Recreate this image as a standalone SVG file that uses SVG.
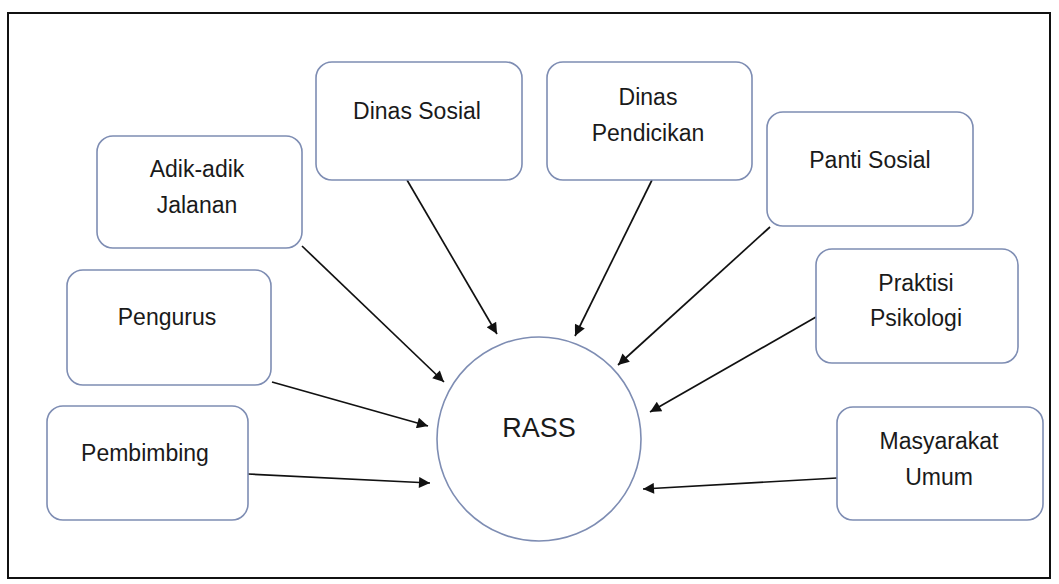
<svg xmlns="http://www.w3.org/2000/svg" width="1059" height="584" viewBox="0 0 1059 584">
<style>
.box{fill:#fff;stroke:#7e8db3;stroke-width:1.6}
.lbl{font-family:"Liberation Sans",Arial,sans-serif;font-size:23px;fill:#1a1a1a;text-anchor:middle}
.con{stroke:#111;stroke-width:1.7;fill:none;marker-end:url(#ah)}
</style>
<defs>
<marker id="ah" viewBox="0 0 10 10" refX="10" refY="5" markerWidth="13" markerHeight="11" markerUnits="userSpaceOnUse" orient="auto">
<path d="M0,0 L10,5 L0,10 z" fill="#111"/>
</marker>
</defs>
<rect x="0" y="0" width="1059" height="584" fill="#fff"/>
<rect x="8" y="13" width="1042" height="565" fill="none" stroke="#111" stroke-width="2"/>
<g id="connectors">
<line class="con" x1="302" y1="246" x2="444" y2="382"/>
<line class="con" x1="272" y1="382" x2="428" y2="426"/>
<line class="con" x1="248" y1="474" x2="430" y2="483"/>
<line class="con" x1="407" y1="180" x2="497" y2="334"/>
<line class="con" x1="652" y1="180" x2="575" y2="336"/>
<line class="con" x1="770" y1="227" x2="618" y2="365"/>
<line class="con" x1="816" y1="317" x2="650" y2="412"/>
<line class="con" x1="837" y1="478" x2="643" y2="489"/>
</g>
<g id="rass">
<circle cx="539" cy="439" r="102" fill="#fff" stroke="#7e8db3" stroke-width="1.6"/>
<text class="lbl" x="539" y="437" style="font-size:27px">RASS</text>
</g>
<g id="adik">
<rect class="box" x="97" y="136" width="205" height="112" rx="16"/>
<text class="lbl" x="197" y="177">Adik-adik</text>
<text class="lbl" x="197" y="213">Jalanan</text>
</g>
<g id="pengurus">
<rect class="box" x="67" y="270" width="204" height="115" rx="16"/>
<text class="lbl" x="167" y="325">Pengurus</text>
</g>
<g id="pembimbing">
<rect class="box" x="47" y="406" width="201" height="114" rx="16"/>
<text class="lbl" x="145" y="461">Pembimbing</text>
</g>
<g id="dinas-sosial">
<rect class="box" x="316" y="62" width="206" height="118" rx="16"/>
<text class="lbl" x="417" y="119">Dinas Sosial</text>
</g>
<g id="dinas-pendidikan">
<rect class="box" x="547" y="62" width="205" height="118" rx="16"/>
<text class="lbl" x="648" y="105">Dinas</text>
<text class="lbl" x="648" y="141">Pendicikan</text>
</g>
<g id="panti-sosial">
<rect class="box" x="767" y="112" width="206" height="114" rx="16"/>
<text class="lbl" x="870" y="168">Panti Sosial</text>
</g>
<g id="praktisi">
<rect class="box" x="816" y="249" width="202" height="114" rx="16"/>
<text class="lbl" x="916" y="291">Praktisi</text>
<text class="lbl" x="916" y="326">Psikologi</text>
</g>
<g id="masyarakat">
<rect class="box" x="837" y="407" width="206" height="113" rx="16"/>
<text class="lbl" x="939" y="449">Masyarakat</text>
<text class="lbl" x="939" y="485">Umum</text>
</g>
</svg>
